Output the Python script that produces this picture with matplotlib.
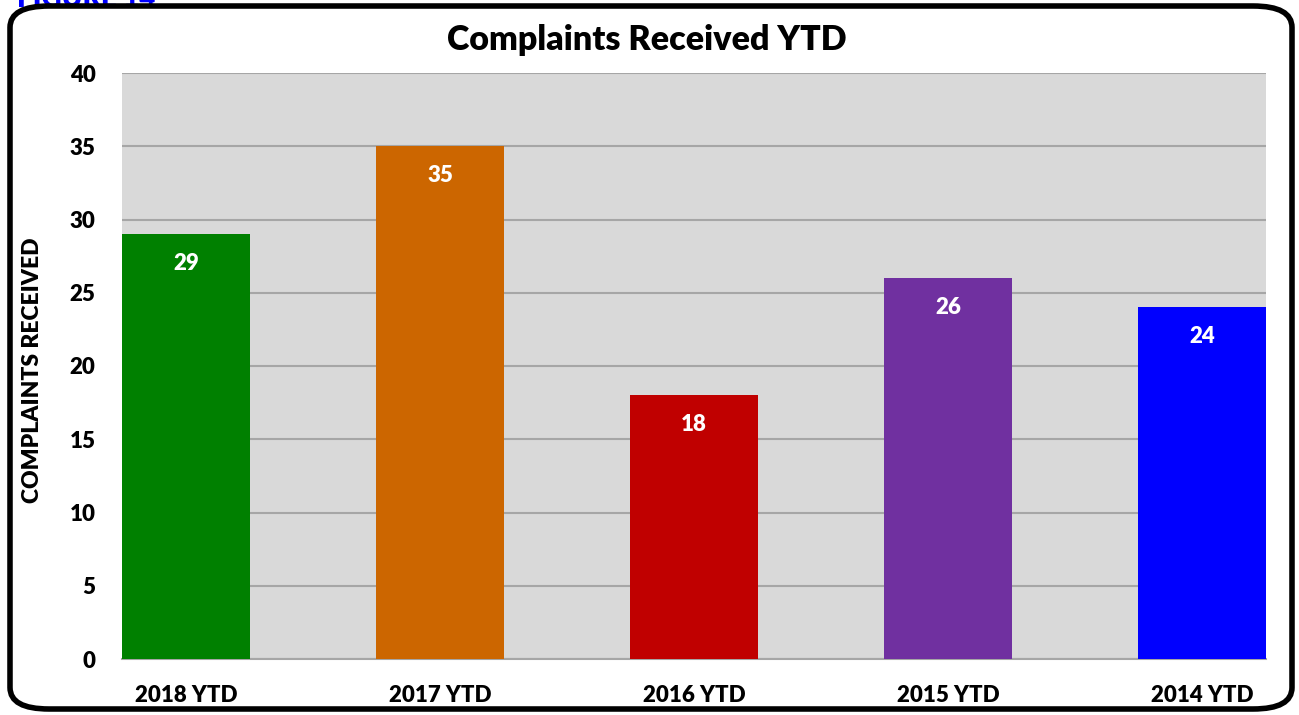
import matplotlib.pyplot as plt
from matplotlib.patches import FancyBboxPatch

categories = ["2018 YTD", "2017 YTD", "2016 YTD", "2015 YTD", "2014 YTD"]
values = [29, 35, 18, 26, 24]
colors = ["#008000", "#CC6600", "#C00000", "#7030A0", "#0000FF"]
yticks = [0, 5, 10, 15, 20, 25, 30, 35, 40]

plt.rcParams["font.family"] = ["Lato", "DejaVu Sans"]
BOLD = "heavy"

W, H = 1299, 715
fig = plt.figure(figsize=(W / 100, H / 100), dpi=100)

# rounded outer frame
frame = FancyBboxPatch((10 / W, 6 / H), (1282 / W), (703 / H),
                       boxstyle="round,pad=0,rounding_size=0.03",
                       transform=fig.transFigure, facecolor="none",
                       edgecolor="black", linewidth=4, zorder=5)
fig.patches.append(frame)

# caption, cut off at the top edge as in the source page
fig.text(17 / W, 1 - 7 / H, "FIGURE 14", color="#0000FF", fontsize=20,
         fontweight=BOLD, ha="left", va="baseline")

ax = fig.add_axes([122 / W, 1 - 659 / H, (1266 - 122) / W, (659 - 73) / H])
ax.set_facecolor("#D9D9D9")

x = range(len(categories))
w = 0.504
ax.bar(x, values, width=w, color=colors, zorder=3)
ax.set_xlim(-w / 2, len(categories) - 1 + w / 2)
ax.set_ylim(0, 40)
ax.set_yticks(yticks)
ax.grid(axis="y", color="#A6A6A6", linewidth=1.5, zorder=1)
ax.tick_params(length=0)
ax.set_xticks(list(x))
ax.set_xticklabels(categories, fontsize=16, fontweight=BOLD)
ax.set_yticklabels([str(t) for t in yticks], fontsize=16, fontweight=BOLD)
ax.tick_params(axis="x", pad=19)
ax.tick_params(axis="y", pad=19)
for s in ["top", "right", "left"]:
    ax.spines[s].set_visible(False)
ax.spines["bottom"].set_color("#A6A6A6")
ax.spines["bottom"].set_linewidth(1.5)

for xi, v in zip(x, values):
    ax.annotate(str(v), (xi, v), xytext=(0, -21), textcoords="offset points",
                ha="center", va="center", color="white", fontsize=16,
                fontweight=BOLD, zorder=4)

fig.text(33 / W, 1 - 370 / H, "COMPLAINTS RECEIVED", rotation=90,
         fontsize=16.5, fontweight=BOLD, ha="center", va="center")
fig.text(647 / W, 1 - 40 / H, "Complaints Received YTD", fontsize=24.5,
         fontweight=BOLD, ha="center", va="center")

fig.savefig("out.png", dpi=100)
